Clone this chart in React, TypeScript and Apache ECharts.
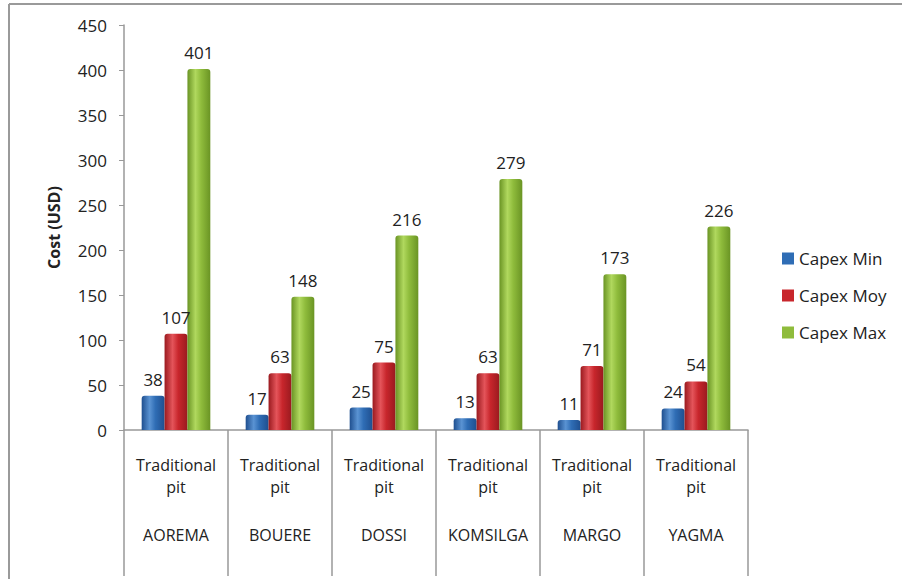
import React, { useEffect, useRef } from "react";
import * as echarts from "echarts";

const sites = ["AOREMA", "BOUERE", "DOSSI", "KOMSILGA", "MARGO", "YAGMA"];
const subLabel = "Traditional pit";
const capexMin = [38, 17, 25, 13, 11, 24];
const capexMoy = [107, 63, 75, 63, 71, 54];
const capexMax = [401, 148, 216, 279, 173, 226];
const seriesNames = ["Capex Min", "Capex Moy", "Capex Max"];
const yTicks = { min: 0, max: 450, interval: 50 };

const FONT = "'Open Sans', 'Noto Sans', sans-serif";

function cyl(dark: string, mid: string, light: string) {
  return new echarts.graphic.LinearGradient(0, 0, 1, 0, [
    { offset: 0, color: dark },
    { offset: 0.35, color: light },
    { offset: 0.6, color: mid },
    { offset: 1, color: dark },
  ]);
}

export default function App() {
  const ref = useRef<HTMLDivElement>(null);
  useEffect(() => {
    if (!ref.current) return;
    const chart = echarts.init(ref.current, undefined, { renderer: "svg" });
    const colors = [
      cyl("#1f4f8f", "#2f6db5", "#5a93d3"),
      cyl("#9a1a1f", "#c8262c", "#e4545a"),
      cyl("#6a9424", "#8fbc3c", "#b0d85e"),
    ];
    const legendColors = ["#2f6db5", "#c8262c", "#8fbc3c"];
    const label = {
      show: true,
      position: "top" as const,
      distance: 8,
      color: "#222",
      fontSize: 17,
      fontFamily: FONT,
    };
    const mk = (name: string, data: number[], i: number) => ({
      name,
      type: "bar" as const,
      data,
      barGap: "0%",
      barCategoryGap: "34%",
      itemStyle: { color: colors[i], borderRadius: [3, 3, 0, 0] },
      label,
    });
    chart.setOption({
      animation: false,
      color: legendColors,
      textStyle: { fontFamily: FONT },
      grid: { left: 124, right: 154, top: 25, bottom: 149, containLabel: false },
      legend: {
        orient: "vertical",
        left: 777,
        top: 245,
        itemGap: 20,
        itemWidth: 12,
        itemHeight: 12,
        icon: "rect",
        textStyle: { fontSize: 17, color: "#222", fontFamily: FONT },
        data: seriesNames.map((n, i) => ({ name: n, itemStyle: { color: legendColors[i] } })),
      },
      xAxis: {
        type: "category",
        data: sites,
        axisLine: { lineStyle: { color: "#999", width: 1.5 } },
        axisTick: { show: true, alignWithLabel: false, interval: 0, length: 146, lineStyle: { color: "#999", width: 1.5 } },
        axisLabel: {
          interval: 0,
          margin: 24,
          formatter: (v: string) => {
            const parts = subLabel.split(" ");
            return `{a|${parts[0]}}\n{a|${parts[1]}}\n{b|${v}}`;
          },
          rich: {
            a: { fontSize: 16, lineHeight: 22, color: "#222", fontFamily: FONT },
            b: { fontSize: 16, lineHeight: 74, color: "#222", fontFamily: FONT },
          },
        },
      },
      yAxis: {
        type: "value",
        min: yTicks.min,
        max: yTicks.max,
        interval: yTicks.interval,
        name: "Cost (USD)",
        nameLocation: "middle",
        nameGap: 62,
        nameTextStyle: { fontSize: 16, fontWeight: "bold", color: "#222", fontFamily: FONT },
        axisLine: { show: true, lineStyle: { color: "#999", width: 1.5 } },
        axisTick: { show: true, length: 5, lineStyle: { color: "#999" } },
        splitLine: { show: false },
        axisLabel: { fontSize: 17, color: "#222", margin: 17, fontFamily: FONT },
      },
      graphic: [
        { type: "line", shape: { x1: 9, y1: 4, x2: 902, y2: 4 }, style: { stroke: "#9a9a9a", lineWidth: 2 } },
        { type: "line", shape: { x1: 9, y1: 4, x2: 9, y2: 579 }, style: { stroke: "#9a9a9a", lineWidth: 2 } },
      ],
      series: [mk(seriesNames[0], capexMin, 0), mk(seriesNames[1], capexMoy, 1), mk(seriesNames[2], capexMax, 2)],
    });
    return () => chart.dispose();
  }, []);
  return (
    <div
      ref={ref}
      style={{ position: "fixed", left: 0, top: 0, width: 902, height: 579, background: "#fff" }}
    />
  );
}
